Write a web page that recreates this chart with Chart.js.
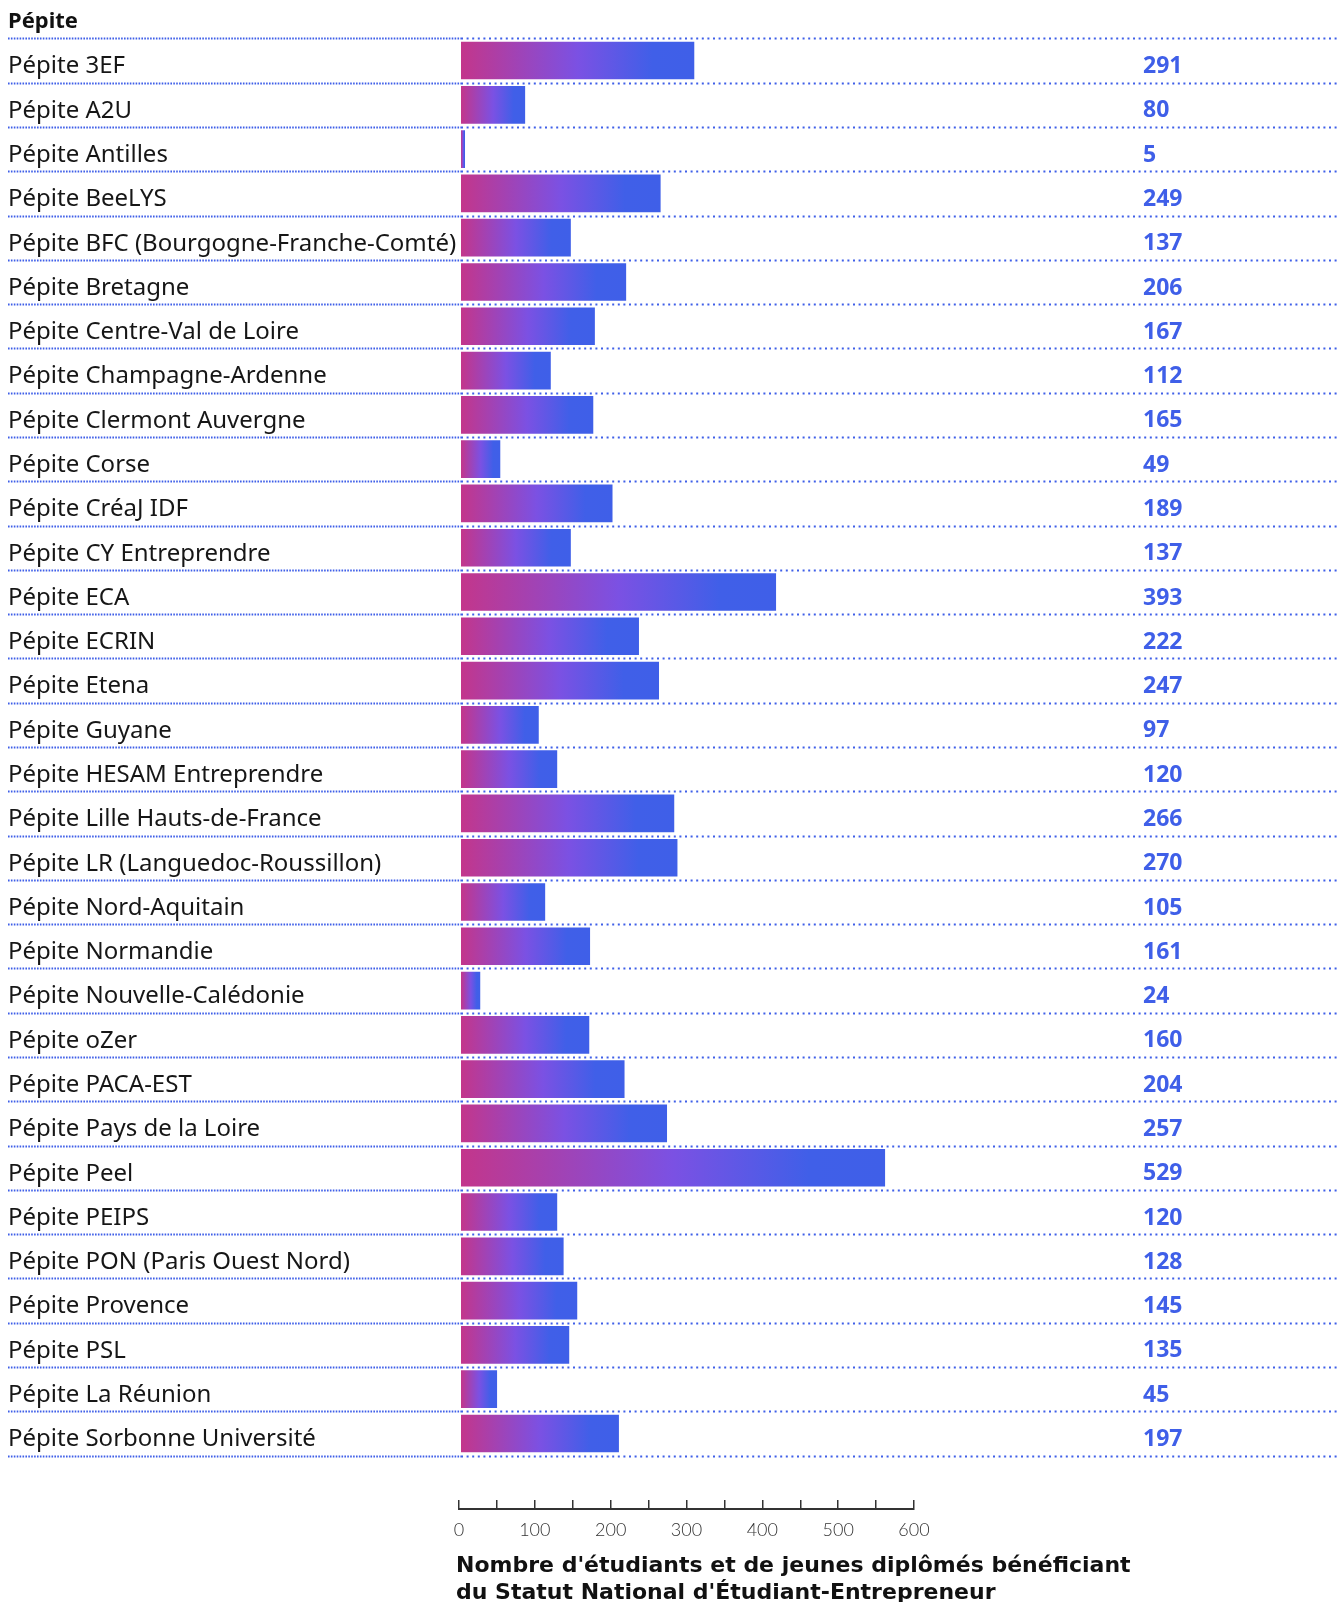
<!DOCTYPE html>
<html>
<head>
<meta charset="utf-8">
<script src="https://cdn.jsdelivr.net/npm/chart.js@4/dist/chart.umd.min.js"></script>
<style>
  html, body { margin: 0; padding: 0; background: #ffffff; overflow: hidden; width: 1343px; height: 1602px; }
  #main { position: absolute; left: 0; top: 0; }
  #axis { position: absolute; left: 0; top: 1480px; }
</style>
</head>
<body>
<canvas id="main" width="1343" height="1470"></canvas>
<canvas id="axis" width="1343" height="129"></canvas>
<script>
// ---- Data ----
const headerLabel = 'Pépite';
const categories = [
  'Pépite 3EF', 'Pépite A2U', 'Pépite Antilles', 'Pépite BeeLYS',
  'Pépite BFC (Bourgogne-Franche-Comté)', 'Pépite Bretagne', 'Pépite Centre-Val de Loire',
  'Pépite Champagne-Ardenne', 'Pépite Clermont Auvergne', 'Pépite Corse', 'Pépite CréaJ IDF',
  'Pépite CY Entreprendre', 'Pépite ECA', 'Pépite ECRIN', 'Pépite Etena', 'Pépite Guyane',
  'Pépite HESAM Entreprendre', 'Pépite Lille Hauts-de-France', 'Pépite LR (Languedoc-Roussillon)',
  'Pépite Nord-Aquitain', 'Pépite Normandie', 'Pépite Nouvelle-Calédonie', 'Pépite oZer',
  'Pépite PACA-EST', 'Pépite Pays de la Loire', 'Pépite Peel', 'Pépite PEIPS',
  'Pépite PON (Paris Ouest Nord)', 'Pépite Provence', 'Pépite PSL', 'Pépite La Réunion',
  'Pépite Sorbonne Université'
];
const studentCounts = [
  291, 80, 5, 249, 137, 206, 167, 112, 165, 49, 189, 137, 393, 222, 247, 97,
  120, 266, 270, 105, 161, 24, 160, 204, 257, 529, 120, 128, 145, 135, 45, 197
];
const axisMin = 0;
const axisMax = 600;
const axisStep = 50;
const axisLabelEvery = 100;
const axisTitleLines = [
  "Nombre d'étudiants et de jeunes diplômés bénéficiant",
  "du Statut National d'Étudiant-Entrepreneur"
];

// ---- Styles ----
const BLUE = '#3f5fe8';
const LABEL_FONT = '"Noto Sans", "Open Sans", sans-serif';
const NUM_FONT = '"Open Sans", "Noto Sans", sans-serif';
const TITLE_FONT = '"DejaVu Sans", "Open Sans", sans-serif';

function barGradient(ctx) {
  const chart = ctx.chart;
  const xs = chart.scales.x;
  if (!xs || !chart.chartArea || ctx.type !== 'data') return '#7b51e3';
  const x0 = xs.getPixelForValue(0);
  const x1 = xs.getPixelForValue(ctx.raw);
  if (!isFinite(x0) || !isFinite(x1) || x1 - x0 < 1) return '#7b51e3';
  const g = chart.ctx.createLinearGradient(x0, 0, x1, 0);
  g.addColorStop(0, '#c3368b');
  g.addColorStop(0.5, '#7b51e3');
  g.addColorStop(0.82, '#405fe8');
  g.addColorStop(1, '#3f5fe8');
  return g;
}

const rowDecor = {
  id: 'rowDecor',
  afterDatasetsDraw(chart) {
    const ys = chart.scales.y;
    const xs = chart.scales.x;
    const c = chart.ctx;
    const n = categories.length;
    const pitch = ys.getPixelForValue(1) - ys.getPixelForValue(0);
    const split = xs.left;
    c.save();
    c.strokeStyle = BLUE;
    c.lineWidth = 2;
    for (let i = 0; i <= n; i++) {
      const y = Math.round(ys.getPixelForValue(i) - pitch / 2) + 0.5;
      c.setLineDash([1.6, 1.3]);
      c.beginPath();
      c.moveTo(8, y);
      c.lineTo(split, y);
      c.stroke();
      c.setLineDash([2, 3.6]);
      c.beginPath();
      c.moveTo(split, y);
      c.lineTo(1339, y);
      c.stroke();
    }
    c.setLineDash([]);
    c.fillStyle = BLUE;
    c.font = 'bold 23px ' + NUM_FONT;
    c.textAlign = 'left';
    c.textBaseline = 'middle';
    for (let i = 0; i < n; i++) {
      const y = ys.getPixelForValue(i) + 6;
      c.fillText(String(studentCounts[i]), 1143, y);
    }
    c.restore();
  }
};

new Chart(document.getElementById('main'), {
  type: 'bar',
  data: {
    labels: categories,
    datasets: [{
      data: studentCounts,
      backgroundColor: barGradient,
      borderWidth: 0,
      categoryPercentage: 1,
      barPercentage: 0.85
    }]
  },
  options: {
    indexAxis: 'y',
    responsive: false,
    animation: false,
    layout: { padding: { left: 8, right: 401, top: 0, bottom: 5 } },
    plugins: {
      legend: { display: false },
      tooltip: { enabled: false },
      title: {
        display: true,
        text: headerLabel,
        align: 'start',
        color: '#111111',
        font: { family: LABEL_FONT, size: 22, weight: 'bold', lineHeight: 1.2 },
        padding: { top: 9, bottom: 3 }
      }
    },
    scales: {
      x: { display: false, min: axisMin, max: axisMax },
      y: {
        afterFit(scale) { scale.width = 453; },
        grid: { display: false },
        border: { display: false },
        ticks: {
          autoSkip: false,
          crossAlign: 'far',
          padding: 0,
          labelOffset: 6,
          color: '#161616',
          font: { family: LABEL_FONT, size: 24 }
        }
      }
    }
  },
  plugins: [rowDecor]
});

const axisTitlePlugin = {
  id: 'axisTitlePlugin',
  afterDraw(chart) {
    const xs = chart.scales.x;
    const c = chart.ctx;
    c.save();
    c.fillStyle = '#111111';
    c.font = 'bold 22px ' + TITLE_FONT;
    c.textAlign = 'left';
    c.textBaseline = 'alphabetic';
    const base = chart.chartArea.bottom + 63;
    axisTitleLines.forEach((line, i) => {
      c.fillText(line, xs.left - 3, base + i * 27);
    });
    c.restore();
  }
};

new Chart(document.getElementById('axis'), {
  type: 'scatter',
  data: { datasets: [{ data: [] }] },
  options: {
    responsive: false,
    animation: false,
    layout: { padding: { left: 459, right: 429, top: 20, bottom: 0 } },
    plugins: { legend: { display: false }, tooltip: { enabled: false } },
    scales: {
      x: {
        type: 'linear',
        position: 'bottom',
        min: axisMin,
        max: axisMax,
        offset: false,
        afterFit(scale) { scale.height = 100; },
        grid: { drawOnChartArea: true, drawTicks: false, offset: false, color: '#333333', lineWidth: 1.5 },
        border: { display: true, color: '#333333', width: 2 },
        ticks: {
          stepSize: axisStep,
          autoSkip: false,
          maxRotation: 0,
          padding: 10,
          color: '#333333',
          font: { family: '"Lato", "Open Sans", sans-serif', size: 18, weight: '300' },
          callback: (v) => (v % axisLabelEvery === 0 ? String(v) : '')
        }
      },
      y: { display: false }
    }
  },
  plugins: [axisTitlePlugin]
});
</script>
</body>
</html>
